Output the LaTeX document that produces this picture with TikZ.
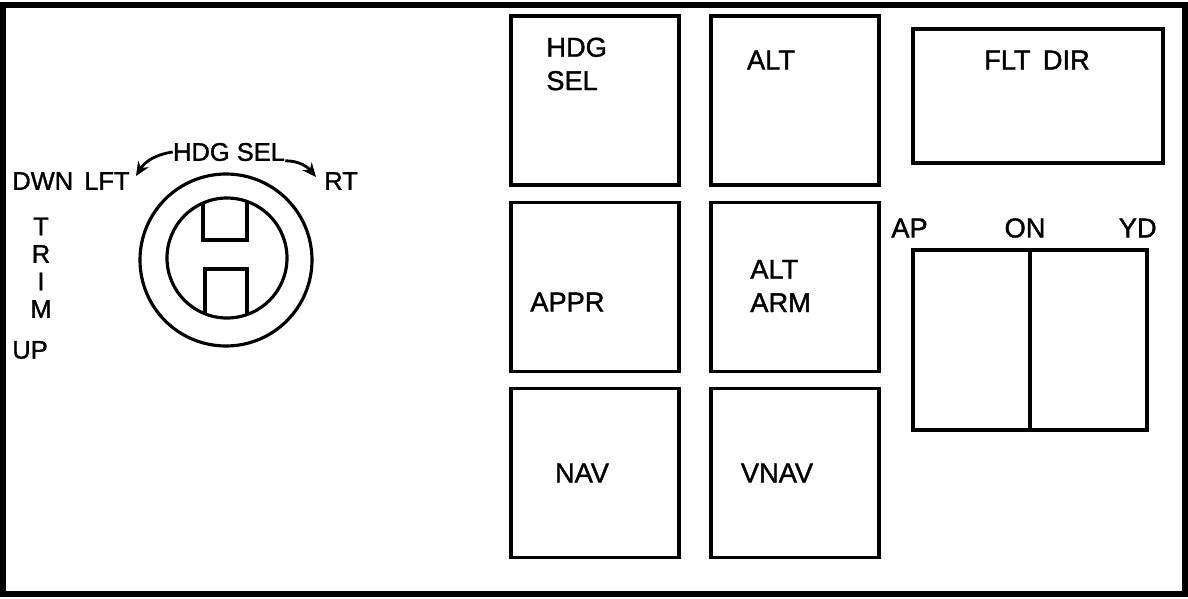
\documentclass[tikz,border=0pt]{standalone}
\usepackage{fontspec}
\setmainfont{Liberation Sans}[FakeBold=1.3]
\usetikzlibrary{arrows.meta,positioning}

\tikzset{
  btnbox/.style={draw,line width=1.8pt,minimum width=3.36cm,minimum height=3.38cm,inner sep=0pt},
  lbl/.style={font=\fontsize{15.5}{19}\selectfont,inner sep=0pt},
  knoblbl/.style={font=\fontsize{14.5}{19}\selectfont,inner sep=0pt},
  knobline/.style={line width=1.8pt},
  turnarrow/.style={line width=1.6pt,-{Stealth[length=8pt,width=7pt]}}
}

\begin{document}
\begin{tikzpicture}[x=0.02cm,y=-0.02cm]
\useasboundingbox (0,0) rectangle (1188,599);
\draw[line width=3pt] (3,5) rectangle (1185,594);

\node[btnbox] (hdgbtn) at (595,100.5) {};
\node[btnbox] (altbtn) at (795,100.5) {};
\node[btnbox] (apprbtn) at (595,287) {};
\node[btnbox] (armbtn) at (795,287) {};
\node[btnbox] (navbtn) at (595,473) {};
\node[btnbox] (vnavbtn) at (795,473) {};
\node[btnbox,minimum width=5cm,minimum height=2.68cm] (fdbtn) at (1038,96) {};
\node[btnbox,minimum width=4.68cm,minimum height=3.6cm] (apyd) at (1030,340) {};
\draw[line width=1.8pt] (apyd.north) -- (apyd.south);

\node[lbl,align=left,anchor=west] (hdgtxt) at (546,64) {HDG\\SEL};
\node[lbl] (alttxt) at (771,60) {ALT};
\node[lbl] (fdtxt) at (1037,60) {FLT\hspace{0.45em}DIR};
\node[lbl,anchor=west] (apprtxt) at (530,302) {APPR};
\node[lbl,align=left,anchor=west] (armtxt) at (750,286) {ALT\\ARM};
\node[lbl] (navtxt) at (582,473) {NAV};
\node[lbl] (vnavtxt) at (777,473) {VNAV};

\node[lbl,anchor=west] (aptxt) at (891,228) {AP};
\node[lbl] (ontxt) at (1025,228) {ON};
\node[lbl,anchor=east] (ydtxt) at (1157,228) {YD};

\draw[knobline] (226,260) circle[radius=86];
\draw[knobline] (227,258) circle[radius=60];
\begin{scope}
\clip (227,258) circle[radius=60];
\draw[knobline] (203,150) rectangle (247,240);
\draw[knobline] (205,269) rectangle (247,360);
\end{scope}

\node[knoblbl,anchor=west] (dwntxt) at (12,181) {DWN};
\node[knoblbl,anchor=west] (lfttxt) at (84,181) {LFT};
\node[knoblbl,anchor=west] (rttxt) at (324,181) {RT};
\node[knoblbl] (hdgsel) at (229,152) {HDG SEL};

\foreach \ch [count=\i] in {T,R,I,M}
  \node[knoblbl] (trim\i) at (41,{199+27.5*\i}) {\ch};
\node[knoblbl,anchor=west] (uptxt) at (12,350) {UP};

\coordinate (lfttip) at (136,176);
\coordinate (rttip) at (316,177);
\draw[turnarrow] (hdgsel.west) to[bend right=25] (lfttip);
\draw[turnarrow] (hdgsel.base east) to[out=0,in=130] (rttip);

\end{tikzpicture}
\end{document}
